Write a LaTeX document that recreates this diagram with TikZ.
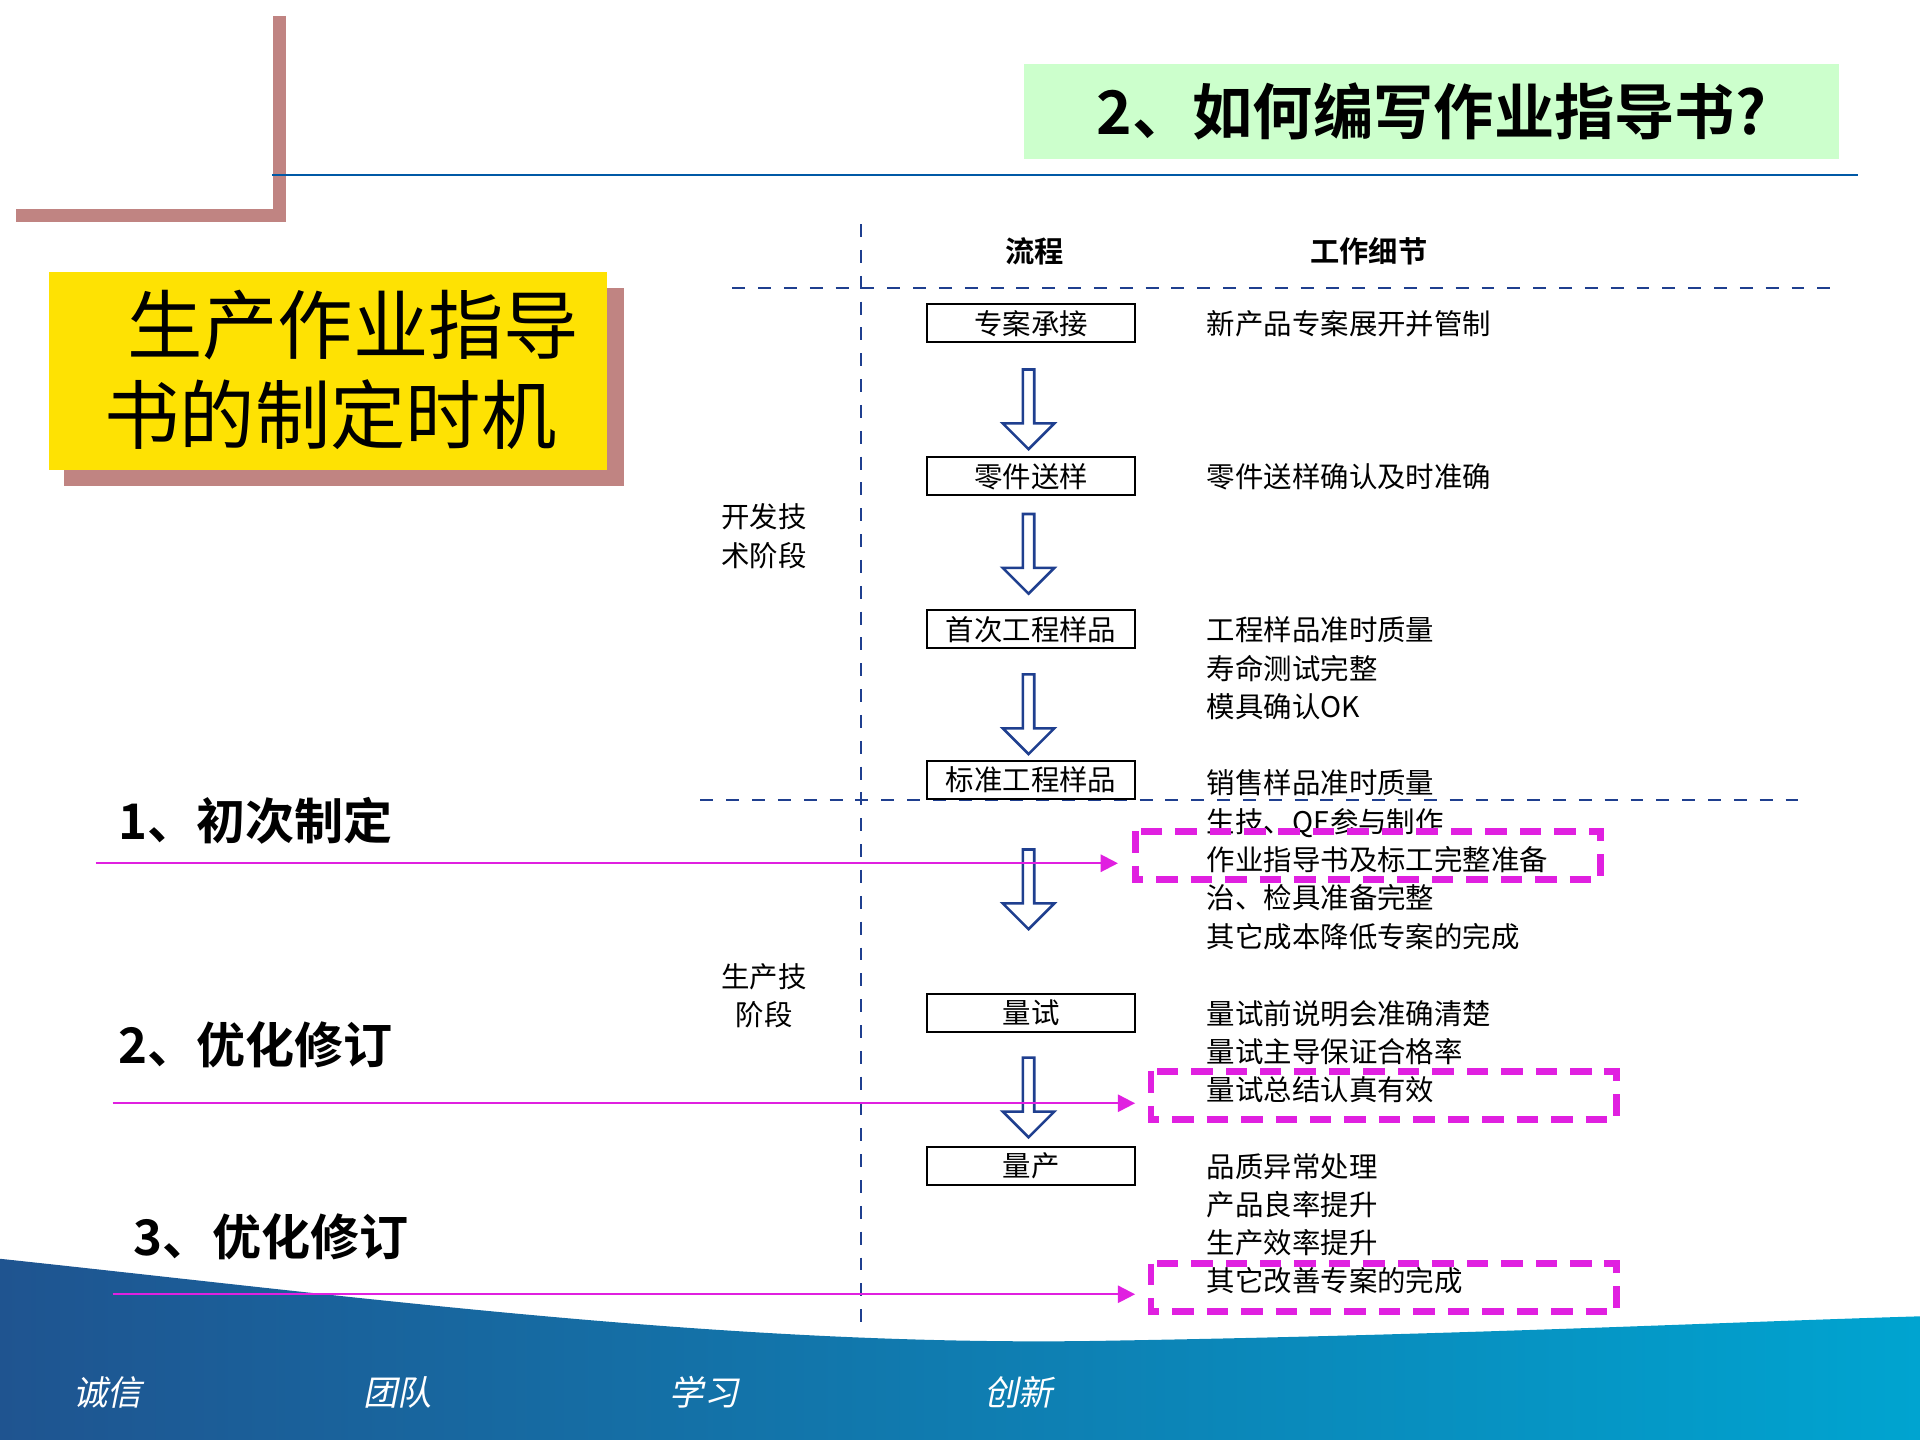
\documentclass[tikz,border=0pt]{standalone}
\usepackage{fontspec}
\setmainfont{Liberation Sans}
\newfontfamily\cjk{Noto Sans CJK SC}
\newfontfamily\cjkb{Noto Sans CJK SC Bold}
\newfontfamily\cjki[FakeSlant=0.2]{Noto Sans CJK SC}
\usetikzlibrary{shapes.arrows,arrows.meta}
\definecolor{rose}{HTML}{C08482}
\definecolor{navy}{HTML}{1F3F8F}
\definecolor{mag}{HTML}{E020E0}
\tikzset{
 px/.style={x=0.01cm,y=-0.01cm},
 proc/.style={draw=black,line width=0.5pt,minimum width=1.7cm,minimum height=0.31cm,inner sep=0pt,font=\cjk\fontsize{6.6}{7}\selectfont},
 detail/.style={anchor=north west,align=left,inner sep=0pt,font=\cjk\fontsize{6.6}{8.9}\selectfont},
 barrow/.style={draw=navy,fill=white,line width=0.6pt,single arrow,shape border rotate=270,minimum height=0.65cm,minimum width=0.42cm,single arrow head extend=0.1cm,single arrow tip angle=90,inner sep=0.5pt},
 hl/.style={draw=mag,line width=1.6pt,dash pattern=on 5pt off 3pt},
 pl/.style={draw=mag,line width=0.5pt,-{Triangle[length=4pt,width=4pt]}},
 lbl/.style={anchor=west,font=\cjkb\fontsize{11.4}{12}\selectfont},
 foot/.style={text=white,font=\cjki\fontsize{8}{9}\selectfont}
}
\begin{document}
\begin{tikzpicture}[px]
\useasboundingbox (0,0) rectangle (1568,1176);
\shade[left color={rgb,255:red,31;green,84;blue,144},right color={rgb,255:red,0;green,164;blue,208}]
 (0,1028) .. controls (300,1060) and (600,1100) .. (900,1095) .. controls (1200,1090) and (1400,1080) .. (1568,1075) -- (1568,1176) -- (0,1176) -- cycle;
\node[foot] (f1) at (88,1137) {诚信};
\node[foot] (f2) at (325,1137) {团队};
\node[foot] (f3) at (575,1137) {学习};
\node[foot] (f4) at (832,1137) {创新};
\draw[rose,line width=3pt] (228,13) -- (228,176) -- (13,176);
\draw[teal!70!blue,line width=0.5pt] (222,143) -- (1517,143);
\fill[green!20!white] (836,52) rectangle (1502,130);
\node[font=\cjkb\fontsize{14}{15}\selectfont] (title) at (1169,91) {2、如何编写作业指导书?};
\fill[rose] (52,235) rectangle (510,397);
\fill[yellow!85!orange] (40,222) rectangle (496,384);
\node[align=center,font=\cjk\fontsize{17.5}{21}\selectfont] (yt) at (270,302) {\hspace*{0.6em}生产作业指导\\书的制定时机};
\draw[navy,dashed,line width=0.5pt] (703,183) -- (703,1080);
\draw[navy,dashed,line width=0.5pt] (598,235) -- (1497,235);
\draw[navy,dashed,line width=0.5pt] (572,653) -- (1472,653);
\node[font=\cjkb\fontsize{6.8}{7}\selectfont] (h1) at (845,205) {流程};
\node[font=\cjkb\fontsize{6.8}{7}\selectfont] (h2) at (1118,205) {工作细节};
\node[proc] (p1) at (842,264) {专案承接};
\node[proc] (p2) at (842,389) {零件送样};
\node[proc] (p3) at (842,514) {首次工程样品};
\node[proc] (p4) at (842,637) {标准工程样品};
\node[proc] (p5) at (842,827) {量试};
\node[proc] (p6) at (842,952) {量产};
\node[barrow] (a1) at (840,332) {};
\node[barrow] (a2) at (840,450) {};
\node[barrow] (a3) at (840,581) {};
\node[barrow] (a4) at (840,724) {};
\node[barrow] (a5) at (840,894) {};
\node[detail] (d1) at (985,253) {新产品专案展开并管制};
\node[detail] (d2) at (985,378) {零件送样确认及时准确};
\node[detail] (d3) at (985,503) {工程样品准时质量\\寿命测试完整\\模具确认OK};
\node[detail] (d4) at (985,628) {销售样品准时质量\\生技、QE参与制作\\作业指导书及标工完整准备\\治、检具准备完整\\其它成本降低专案的完成};
\node[detail] (d5) at (985,816) {量试前说明会准确清楚\\量试主导保证合格率\\量试总结认真有效};
\node[detail] (d6) at (985,941) {品质异常处理\\产品良率提升\\生产效率提升\\其它改善专案的完成};
\node[align=center,font=\cjk\fontsize{6.6}{8.9}\selectfont] (s1) at (624,438) {开发技\\术阶段};
\node[align=center,font=\cjk\fontsize{6.6}{8.9}\selectfont] (s2) at (624,813) {生产技\\阶段};
\draw[hl] (927,679) rectangle (1307,718);
\draw[hl] (940,875) rectangle (1320,914);
\draw[hl] (940,1032) rectangle (1320,1071);
\coordinate (t1) at (913,705); \coordinate (t2) at (927,901); \coordinate (t3) at (927,1057);
\coordinate (o1) at (78,705); \coordinate (o2) at (92,901); \coordinate (o3) at (92,1057);
\draw[pl] (o1) -- (t1);
\draw[pl] (o2) -- (t2);
\draw[pl] (o3) -- (t3);
\node[lbl] (l1) at (84,670) {1、初次制定};
\node[lbl] (l2) at (84,853) {2、优化修订};
\node[lbl] (l3) at (97,1010) {3、优化修订};
\end{tikzpicture}
\end{document}
